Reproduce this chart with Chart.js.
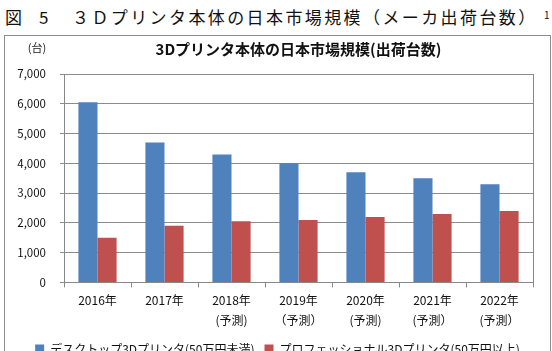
<!DOCTYPE html>
<html>
<head>
<meta charset="utf-8">
<script src="https://cdn.jsdelivr.net/npm/chart.js@4/dist/chart.umd.min.js"></script>
<style>
  body { margin: 0; background: #fff; font-family: "Noto Sans CJK JP", sans-serif; }
  .head { position: absolute; top: 5px; font-size: 17px; color: #111; line-height: 24px; white-space: nowrap; }
  .box { position: absolute; left: 4px; top: 35px; width: 545px; height: 329px; border: 1px solid #8c8c8c; }
</style>
</head>
<body>
<div class="head" style="left:5px">図</div>
<div class="head" style="left:39px">5</div>
<div class="head" style="left:72px; letter-spacing:2.4px">３Ｄプリンタ本体の日本市場規模（メーカ出荷台数）</div>
<div class="head" style="left:544px; top:3px; font-size:10px">1</div>
<div class="box"><canvas id="chart1"></canvas></div>
<script>
  var years = [
    ['2016年'], ['2017年'], ['2018年', '(予測)'], ['2019年', '（予測）'],
    ['2020年', '(予測)'], ['2021年', '(予測）'], ['2022年', '(予測）']
  ];
  var desktop = [6050, 4700, 4300, 4000, 3700, 3500, 3300];
  var professional = [1500, 1900, 2050, 2100, 2200, 2300, 2400];
  var seriesNames = ['デスクトップ3Dプリンタ(50万円未満)', 'プロフェッショナル3Dプリンタ(50万円以上)'];
  var chartTitle = '3Dプリンタ本体の日本市場規模(出荷台数)';
  var unitLabel = '(台)';

  var font = '"Noto Sans CJK JP", sans-serif';

  // draws the unit label above the y axis
  var unitPlugin = {
    id: 'unit',
    afterDraw: function(chart) {
      var ctx = chart.ctx;
      ctx.save();
      ctx.font = '11px ' + font;
      ctx.fillStyle = '#222';
      ctx.textAlign = 'center';
      ctx.textBaseline = 'middle';
      ctx.fillText(unitLabel, 32, 12);
      ctx.restore();
    }
  };

  var c1 = document.getElementById('chart1');
  var chart1 = new Chart(c1, {
    type: 'bar',
    data: {
      labels: years,
      datasets: [{
        label: seriesNames[0],
        data: desktop,
        backgroundColor: '#4F81BD'
      }, {
        label: seriesNames[1],
        data: professional,
        backgroundColor: '#C0504D'
      }]
    },
    options: {
      responsive: true,
      maintainAspectRatio: false,
      animation: false,
      layout: { padding: { left: 0, right: 0, top: 4, bottom: 0 } },
      datasets: { bar: { categoryPercentage: 0.57, barPercentage: 1 } },
      plugins: {
        title: {
          display: true,
          fullSize: false,
          text: chartTitle,
          color: '#111',
          font: { family: font, size: 15, weight: 'bold' },
          padding: { top: 0, bottom: 16 }
        },
        legend: {
          position: 'bottom',
          labels: {
            color: '#111',
            font: { family: font, size: 12 },
            boxWidth: 9,
            boxHeight: 9,
            padding: 10
          }
        },
        tooltip: { enabled: false }
      },
      scales: {
        x: {
          grid: { display: true, drawOnChartArea: false, offset: true, color: '#888', tickLength: 5 },
          border: { color: '#888' },
          ticks: { color: '#111', font: { family: font, size: 12, lineHeight: 1.65 }, maxRotation: 0, padding: 3 }
        },
        y: {
          min: 0,
          max: 7000,
          afterFit: function(scale) { scale.width = 59; },
          grid: { color: '#8c8c8c', tickLength: 4 },
          border: { color: '#888' },
          ticks: {
            stepSize: 1000,
            color: '#111',
            font: { family: font, size: 11.5 },
            padding: 14,
            callback: function(v) { return v.toLocaleString('en-US'); }
          }
        },
        // empty right axis: leaves the margin and draws the plot's right edge
        yr: {
          position: 'right',
          afterFit: function(scale) { scale.width = 17; },
          grid: { display: false },
          border: { display: true, color: '#888' },
          ticks: { display: false }
        }
      }
    },
    plugins: [unitPlugin]
  });
</script>
</body>
</html>
